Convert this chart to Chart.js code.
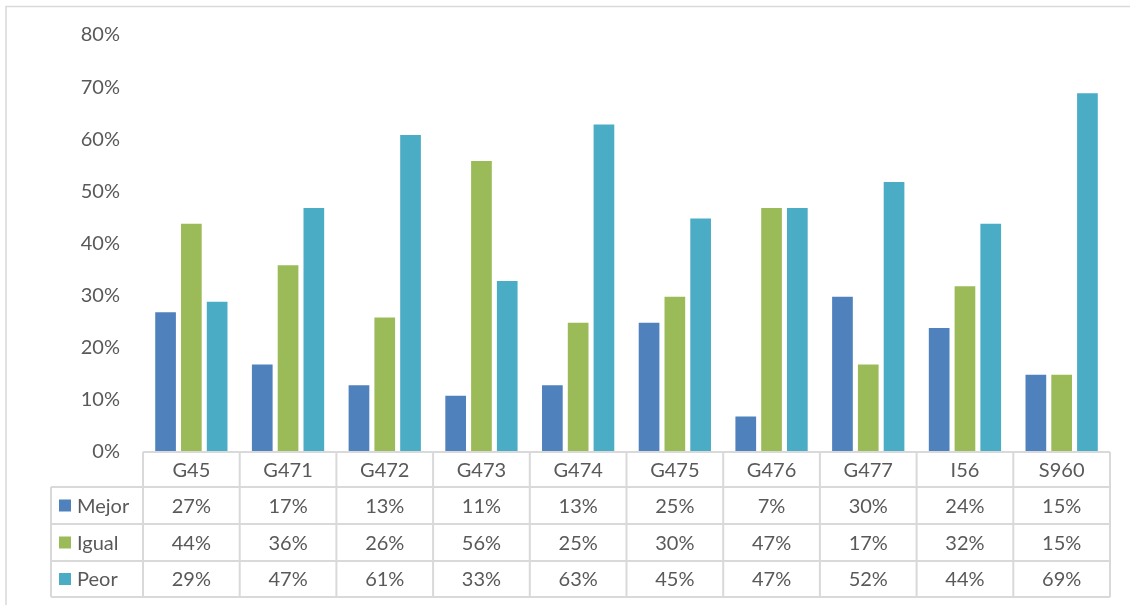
<!DOCTYPE html>
<html>
<head>
<meta charset="utf-8">
<script src="https://cdn.jsdelivr.net/npm/chart.js@4/dist/chart.umd.min.js"></script>
<style>
    html, body { margin: 0; padding: 0; background: #fff; }
    canvas { display: block; }
</style>
</head>
<body>
<canvas id="barchart" width="1130" height="605"></canvas>
<script>
const categorias = ['G45', 'G471', 'G472', 'G473', 'G474', 'G475', 'G476', 'G477', 'I56', 'S960'];
const dataMejor = [27, 17, 13, 11, 13, 25, 7, 30, 24, 15];
const dataIgual = [44, 36, 26, 56, 25, 30, 47, 17, 32, 15];
const dataPeor = [29, 47, 61, 33, 63, 45, 47, 52, 44, 69];
const yTicks = [0, 10, 20, 30, 40, 50, 60, 70, 80];

const FONT = 'Lato, "Open Sans", sans-serif';
const TEXT = '#595959';
const LINE = '#D9D9D9';

// Data table under the plot (Excel style), plus the outer frame
const tablaPlugin = {
    id: 'tabla',
    afterDraw(chart) {
        const ctx = chart.ctx;
        const x = chart.scales.x;
        const area = chart.chartArea;
        const n = categorias.length;
        const w = (area.right - area.left) / n;
        const rows = [area.bottom, 487, 524, 561, 597];
        const legLeft = 51;

        ctx.save();
        // frame
        ctx.strokeStyle = LINE;
        ctx.lineWidth = 1.5;
        ctx.beginPath();
        ctx.moveTo(6, 605);
        ctx.lineTo(6, 6.5);
        ctx.lineTo(1130, 6.5);
        ctx.stroke();

        // grid of the table
        ctx.lineWidth = 2;
        ctx.beginPath();
        ctx.moveTo(area.left, rows[0]);
        ctx.lineTo(area.right, rows[0]);
        for (let r = 1; r < rows.length; r++) {
            ctx.moveTo(legLeft, rows[r]);
            ctx.lineTo(area.right, rows[r]);
        }
        ctx.moveTo(legLeft, rows[1]);
        ctx.lineTo(legLeft, rows[4]);
        for (let i = 0; i <= n; i++) {
            const px = area.left + i * w;
            ctx.moveTo(px, rows[0]);
            ctx.lineTo(px, rows[4]);
        }
        ctx.stroke();

        // texts
        ctx.fillStyle = TEXT;
        ctx.font = '20px ' + FONT;
        ctx.textAlign = 'center';
        ctx.textBaseline = 'middle';
        categorias.forEach((c, i) => {
            ctx.fillText(c, x.getPixelForValue(i), (rows[0] + rows[1]) / 2 + 1);
        });
        chart.data.datasets.forEach((ds, r) => {
            const cy = (rows[r + 1] + rows[r + 2]) / 2 + 1;
            ds.data.forEach((v, i) => {
                ctx.fillStyle = TEXT;
                ctx.textAlign = 'center';
                ctx.fillText(v + '%', x.getPixelForValue(i), cy);
            });
            // legend key
            ctx.fillStyle = ds.backgroundColor;
            ctx.fillRect(59, cy - 7, 12, 12);
            ctx.fillStyle = TEXT;
            ctx.textAlign = 'left';
            ctx.fillText(ds.label, 77, cy);
        });
        ctx.restore();
    }
};

const ctx = document.getElementById('barchart').getContext('2d');
const myChart = new Chart(ctx, {
    type: 'bar',
    data: {
        labels: categorias,
        datasets: [{
            label: 'Mejor',
            data: dataMejor,
            backgroundColor: '#4F81BD',
            borderColor: 'rgba(255, 255, 255, 0.6)',
            borderWidth: 1
        },
        {
            label: 'Igual',
            data: dataIgual,
            backgroundColor: '#9BBB59',
            borderColor: 'rgba(255, 255, 255, 0.6)',
            borderWidth: 1
        },
        {
            label: 'Peor',
            data: dataPeor,
            backgroundColor: '#4BACC6',
            borderColor: 'rgba(255, 255, 255, 0.6)',
            borderWidth: 1
        }]
    },
    options: {
        responsive: false,
        animation: false,
        devicePixelRatio: 1,
        layout: {
            padding: { left: 0, top: 35, right: 20, bottom: 153 }
        },
        plugins: {
            legend: { display: false },
            tooltip: { enabled: false }
        },
        datasets: {
            bar: { categoryPercentage: 0.8, barPercentage: 0.88 }
        },
        scales: {
            x: {
                display: false
            },
            y: {
                min: 0,
                max: 80,
                afterFit(scale) { scale.width = 143; },
                afterBuildTicks(scale) {
                    scale.ticks = yTicks.map(v => ({ value: v }));
                },
                grid: { display: false, drawTicks: false },
                border: { display: false },
                ticks: {
                    padding: 23,
                    color: TEXT,
                    font: { family: FONT, size: 20 },
                    callback: (v) => v + '%'
                }
            }
        }
    },
    plugins: [tablaPlugin]
});
</script>
</body>
</html>
